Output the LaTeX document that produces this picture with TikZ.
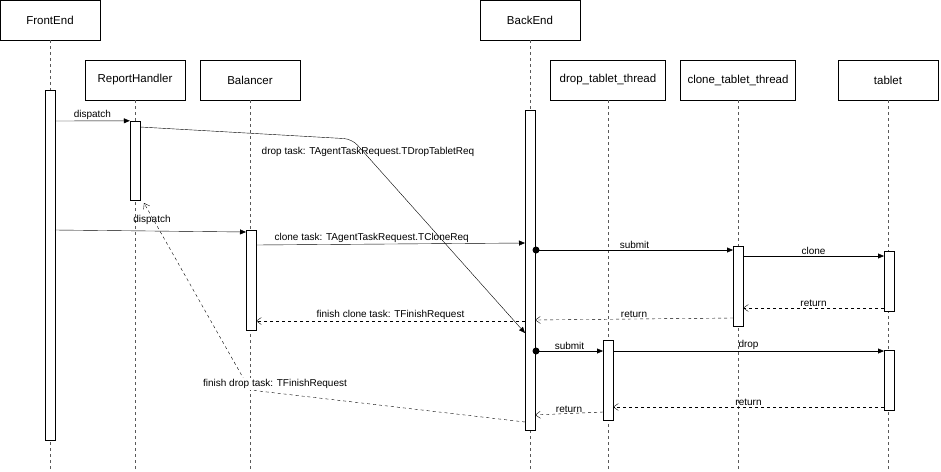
\documentclass[tikz,border=0pt]{standalone}
\usepackage{fontspec}
\setmainfont{Liberation Sans}
\usetikzlibrary{arrows.meta}
\begin{document}
\begin{tikzpicture}[x=1pt,y=-1pt,
  head/.style={draw,minimum width=100pt,minimum height=40pt,font=\fontsize{11.5}{12}\selectfont,inner sep=0},
  life/.style={dashed,gray!70!black},
  act/.style={draw,fill=white,minimum width=10pt,inner sep=0},
  msg/.style={-{Triangle[length=6pt,width=5pt]}},
  ret/.style={dashed,-{Straight Barb[length=5pt,width=7pt]}},
  lbl/.style={font=\fontsize{10}{11}\selectfont,inner sep=1pt}
  ]
  \useasboundingbox (0,0) rectangle (941,471);
  % heads
  \node[head] (fe) at (50,20) {FrontEnd};
  \node[head] (rh) at (135,80) {ReportHandler};
  \node[head] (bal) at (250,80) {Balancer};
  \node[head] (be) at (530,20) {BackEnd};
  \node[head,minimum width=115pt] (dt) at (608,80) {drop\_tablet\_thread};
  \node[head,minimum width=115pt] (ct) at (738,80) {clone\_tablet\_thread};
  \node[head] (tb) at (888,80) {tablet};
  % lifelines
  \foreach \h in {fe,rh,bal,be,dt,ct,tb}
    \draw[life] (\h.south) -- (\h.south |- 0,471);
  % activations
  \node[act,minimum height=350pt] (feA) at (50,265) {};
  \node[act,minimum height=79pt] (rhA) at (135,160.5) {};
  \node[act,minimum height=100pt] (balA) at (251,280) {};
  \node[act,minimum height=320pt] (beA) at (530,270) {};
  \node[act,minimum height=80pt] (ctA) at (738,286) {};
  \node[act,minimum height=60pt] (tbA) at (889,281) {};
  \node[act,minimum height=80pt] (dtA) at (608,380) {};
  \node[act,minimum height=60pt] (tbB) at (889,380) {};
  \coordinate (bend) at (352,139);
  \coordinate (low) at (250,390);
  % messages
  \draw[msg] (55,121) -- node[lbl,above] {dispatch} (rhA.north west);
  \draw[msg,rounded corners=8pt] (140,127) -- (bend) -- (525,333);
  \node[lbl] at (368,152) {drop task: TAgentTaskRequest.TDropTabletReq};
  \draw[msg] (55,230) -- (246,232);
  \node[lbl] at (152,220) {dispatch};
  \draw[ret] (525,422) -- (low) -- (144,203);
  \node[lbl,fill=white] at (275,384) {finish drop task: TFinishRequest};
  \draw[msg] (256,245) -- node[lbl,above,pos=0.43] {clone task: TAgentTaskRequest.TCloneReq} (525,243);
  \fill (536,250) circle (3.5pt);
  \draw[msg] (536,250) -- node[lbl,above] {submit} (733,250);
  \draw[msg] (743,256) -- node[lbl,above] {clone} (884,256);
  \draw[ret] (884,308) -- node[lbl,above] {return} (743,308);
  \draw[ret] (733,318) -- node[lbl,above] {return} (535,320);
  \draw[ret] (525,321) -- node[lbl,above] {finish clone task: TFinishRequest} (256,321);
  \fill (536,351) circle (3.5pt);
  \draw[msg] (536,351) -- node[lbl,above] {submit} (603,351);
  \draw[msg] (613,351) -- node[lbl,above] {drop} (884,351);
  \draw[ret] (884,407) -- node[lbl,above] {return} (613,407);
  \draw[ret] (603,412) -- node[lbl,above] {return} (535,415);
\end{tikzpicture}
\end{document}
